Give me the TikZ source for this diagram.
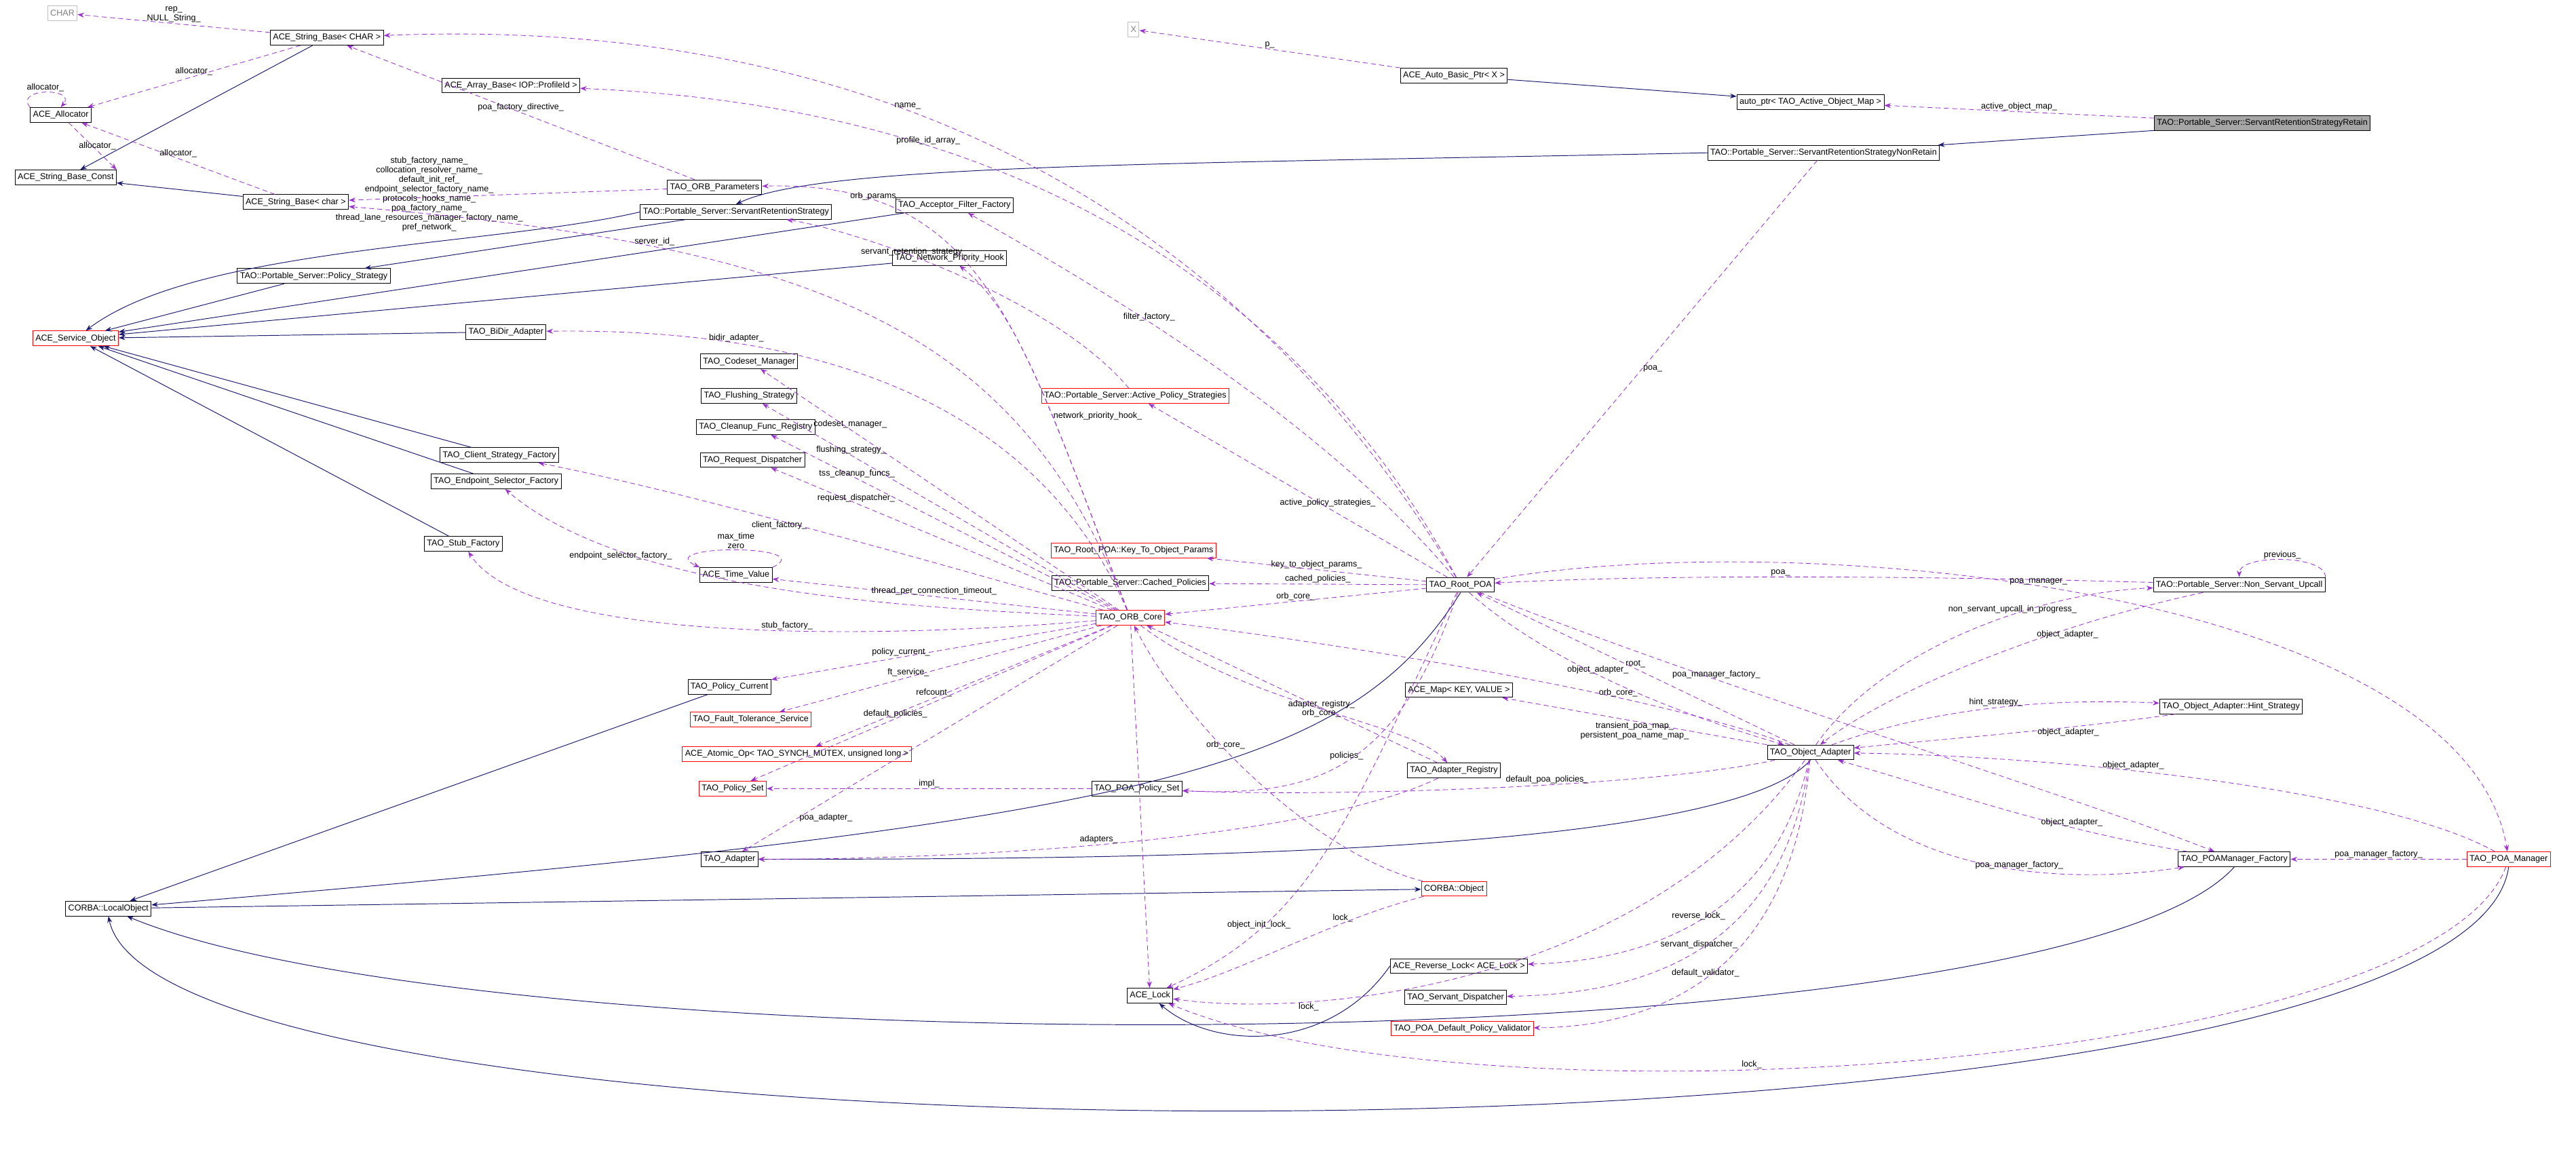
\documentclass[tikz,border=0pt]{standalone}
\usepackage{fontspec}
\setmainfont{Liberation Sans}
\usetikzlibrary{arrows.meta}
\definecolor{usecol}{HTML}{9A32CD}
\definecolor{inhcol}{HTML}{191970}
\tikzset{
  cls/.style={draw=black, fill=white, rectangle, inner sep=1.6pt, minimum height=9pt,
    font=\fontsize{5.2}{6}\selectfont},
  redcls/.style={cls, draw=red},
  ghost/.style={cls, draw=black!25, text=black!50},
  self/.style={cls, fill=black!35},
  use/.style={draw=usecol, dashed, dash pattern=on 3pt off 2pt, -{Stealth[length=4pt,width=3pt]}, line width=0.35pt},
  inh/.style={draw=inhcol, -{Stealth[length=4pt,width=3pt]}, line width=0.4pt},
  lbl/.style={font=\fontsize{5.2}{5.8}\selectfont, align=center, inner sep=0.5pt}
}
\begin{document}
\begin{tikzpicture}[x=1pt,y=1pt]
\useasboundingbox (0,0) rectangle (1568,-701);

% classes
\node[ghost] (chr) at (38,-8) {CHAR};
\node[cls] (strbc) at (199,-23) {ACE\_String\_Base< CHAR >};
\node[cls] (alloc) at (37,-70) {ACE\_Allocator};
\node[cls] (strconst) at (40,-108) {ACE\_String\_Base\_Const};
\node[cls] (strb) at (180,-123) {ACE\_String\_Base< char >};
\node[cls] (arr) at (311,-52) {ACE\_Array\_Base< IOP::ProfileId >};
\node[cls] (orbparams) at (435,-114) {TAO\_ORB\_Parameters};
\node[ghost] (x) at (690,-18) {X};
\node[cls] (autobp) at (885,-46) {ACE\_Auto\_Basic\_Ptr< X >};
\node[cls] (autop) at (1102,-62) {auto\_ptr< TAO\_Active\_Object\_Map >};
\node[self] (retain) at (1377,-75) {TAO::Portable\_Server::ServantRetentionStrategyRetain};
\node[cls] (nonretain) at (1110,-93) {TAO::Portable\_Server::ServantRetentionStrategyNonRetain};
\node[cls] (srs) at (448,-129) {TAO::Portable\_Server::ServantRetentionStrategy};
\node[cls] (aff) at (581,-125) {TAO\_Acceptor\_Filter\_Factory};
\node[cls] (polstr) at (191,-168) {TAO::Portable\_Server::Policy\_Strategy};
\node[cls] (nph) at (578,-157) {TAO\_Network\_Priority\_Hook};
\node[redcls] (svcobj) at (46,-206) {ACE\_Service\_Object};
\node[cls] (bidir) at (308,-202) {TAO\_BiDir\_Adapter};
\node[cls] (codeset) at (456,-220) {TAO\_Codeset\_Manager};
\node[cls] (flush) at (456,-241) {TAO\_Flushing\_Strategy};
\node[cls] (cleanup) at (460,-260) {TAO\_Cleanup\_Func\_Registry};
\node[cls] (reqdisp) at (458,-280) {TAO\_Request\_Dispatcher};
\node[redcls] (aps) at (691,-241) {TAO::Portable\_Server::Active\_Policy\_Strategies};
\node[cls] (csf) at (304,-277) {TAO\_Client\_Strategy\_Factory};
\node[cls] (esf) at (302,-293) {TAO\_Endpoint\_Selector\_Factory};
\node[cls] (stubf) at (282,-331) {TAO\_Stub\_Factory};
\node[cls] (tv) at (448,-350) {ACE\_Time\_Value};
\node[redcls] (ktop) at (690,-335) {TAO\_Root\_POA::Key\_To\_Object\_Params};
\node[cls] (cached) at (688,-355) {TAO::Portable\_Server::Cached\_Policies};
\node[cls] (rootpoa) at (889,-356) {TAO\_Root\_POA};
\node[redcls] (orbcore) at (688,-376) {TAO\_ORB\_Core};
\node[cls] (nsu) at (1363,-356) {TAO::Portable\_Server::Non\_Servant\_Upcall};
\node[cls] (polcur) at (444,-418) {TAO\_Policy\_Current};
\node[redcls] (ft) at (457,-438) {TAO\_Fault\_Tolerance\_Service};
\node[cls] (acemap) at (888,-420) {ACE\_Map< KEY, VALUE >};
\node[cls] (hint) at (1358,-430) {TAO\_Object\_Adapter::Hint\_Strategy};
\node[redcls] (atomic) at (485,-459) {ACE\_Atomic\_Op< TAO\_SYNCH\_MUTEX, unsigned long >};
\node[cls] (objad) at (1102,-458) {TAO\_Object\_Adapter};
\node[cls] (adreg) at (885,-469) {TAO\_Adapter\_Registry};
\node[redcls] (polset) at (446,-480) {TAO\_Policy\_Set};
\node[cls] (poapolset) at (692,-480) {TAO\_POA\_Policy\_Set};
\node[cls] (adapter) at (444,-523) {TAO\_Adapter};
\node[cls] (pmf) at (1360,-523) {TAO\_POAManager\_Factory};
\node[redcls] (poamgr) at (1527,-523) {TAO\_POA\_Manager};
\node[cls] (localobj) at (66,-553) {CORBA::LocalObject};
\node[redcls] (corbaobj) at (885,-541) {CORBA::Object};
\node[cls] (revlock) at (888,-588) {ACE\_Reverse\_Lock< ACE\_Lock >};
\node[cls] (acelock) at (700,-606) {ACE\_Lock};
\node[cls] (servdisp) at (886,-607) {TAO\_Servant\_Dispatcher};
\node[redcls] (validator) at (890,-626) {TAO\_POA\_Default\_Policy\_Validator};

% inheritance
\draw[inh] (strbc) -- (strconst);
\draw[inh] (strb) -- (strconst);
\draw[inh] (autobp) -- (autop);
\draw[inh] (retain) -- (nonretain);
\draw[inh] (nonretain.west) .. controls (700,-100) and (500,-100) .. (srs.north);
\draw[inh] (srs) -- (polstr);
\draw[inh] (srs.west) .. controls (300,-150) and (120,-150) .. (svcobj);
\draw[inh] (aff) -- (svcobj);
\draw[inh] (nph) -- (svcobj);
\draw[inh] (polstr) -- (svcobj);
\draw[inh] (bidir) -- (svcobj);
\draw[inh] (csf) -- (svcobj);
\draw[inh] (esf) -- (svcobj);
\draw[inh] (stubf) -- (svcobj);
\draw[inh] (polcur) -- (localobj);
\draw[inh] (rootpoa.south) .. controls (820,-470) and (700,-500) .. (localobj);
\draw[inh] (localobj) -- (corbaobj);
\draw[inh] (objad.south) .. controls (1050,-520) and (700,-523) .. (adapter);
\draw[inh] (pmf.south) .. controls (1250,-650) and (300,-650) .. (localobj);
\draw[inh] (poamgr.south) .. controls (1500,-720) and (100,-720) .. (localobj.south);
\draw[inh] (revlock.west) .. controls (810,-640) and (740,-640) .. (acelock);

% usage
\draw[use] (strbc) -- node[lbl, above]{rep\_\\NULL\_String\_} (chr);
\draw[use] (strbc) -- node[lbl, above]{allocator\_} (alloc);
\draw[use] (alloc.north west) .. controls +(-10,12) and +(10,12) .. node[lbl, above]{allocator\_} (alloc.north);
\draw[use] (strb) -- node[lbl, above]{allocator\_} (alloc);
\draw[use] (alloc) -- node[lbl, above, pos=0.6]{allocator\_} (strconst.north east);
\draw[use] (orbparams) -- node[lbl, above]{poa\_factory\_directive\_} (strbc);
\draw[use] (rootpoa) .. controls (700,-40) and (400,-15) .. node[lbl, above, pos=0.5]{name\_} (strbc);
\draw[use] (rootpoa) .. controls (750,-100) and (500,-60) .. node[lbl, above, pos=0.6]{profile\_id\_array\_} (arr);
\draw[use] (orbparams) -- node[lbl, left, pos=0.45]{stub\_factory\_name\_\\collocation\_resolver\_name\_\\default\_init\_ref\_\\endpoint\_selector\_factory\_name\_\\protocols\_hooks\_name\_\\poa\_factory\_name\_\\thread\_lane\_resources\_manager\_factory\_name\_\\pref\_network\_} (strb);
\draw[use] (orbcore) .. controls (620,-200) and (600,-110) .. node[lbl, above, pos=0.8]{orb\_params\_} (orbparams);
\draw[use] (autobp) -- node[lbl, above]{p\_} (x);
\draw[use] (retain) -- node[lbl, above]{active\_object\_map\_} (autop);
\draw[use] (nonretain) -- node[lbl, right, pos=0.5]{poa\_} (rootpoa);
\draw[use] (aps) .. controls (640,-180) and (520,-140) .. node[lbl, above, pos=0.6]{servant\_retention\_strategy\_} (srs);
\draw[use] (rootpoa) .. controls (800,-250) and (660,-170) .. node[lbl, above, pos=0.6]{filter\_factory\_} (aff);
\draw[use] (orbcore) .. controls (640,-250) and (620,-190) .. node[lbl, right, pos=0.4]{network\_priority\_hook\_} (nph);
\draw[use] (orbcore) .. controls (620,-200) and (500,-150) .. node[lbl, above, pos=0.75]{server\_id\_} (strb);
\draw[use] (orbcore) .. controls (620,-220) and (450,-200) .. node[lbl, above, pos=0.7]{bidir\_adapter\_} (bidir);
\draw[use] (orbcore) -- node[lbl, above, pos=0.75]{codeset\_manager\_} (codeset);
\draw[use] (orbcore) -- node[lbl, above, pos=0.75]{flushing\_strategy\_} (flush);
\draw[use] (orbcore) -- node[lbl, above, pos=0.75]{tss\_cleanup\_funcs\_} (cleanup);
\draw[use] (orbcore) -- node[lbl, above, pos=0.75]{request\_dispatcher\_} (reqdisp);
\draw[use] (rootpoa) -- node[lbl, above, pos=0.4]{active\_policy\_strategies\_} (aps);
\draw[use] (orbcore) .. controls (560,-340) and (420,-300) .. node[lbl, below, pos=0.55]{client\_factory\_} (csf);
\draw[use] (orbcore) .. controls (550,-370) and (380,-360) .. node[lbl, below, pos=0.75]{endpoint\_selector\_factory\_} (esf);
\draw[use] (orbcore) .. controls (520,-390) and (320,-390) .. node[lbl, above, pos=0.4]{stub\_factory\_} (stubf);
\draw[use] (tv.north east) .. controls +(30,14) and +(-30,14) .. node[lbl, above]{max\_time\\zero} (tv.north west);
\draw[use] (orbcore) -- node[lbl, above, pos=0.5]{thread\_per\_connection\_timeout\_} (tv);
\draw[use] (rootpoa) -- node[lbl, above]{key\_to\_object\_params\_} (ktop);
\draw[use] (rootpoa) -- node[lbl, above]{cached\_policies\_} (cached);
\draw[use] (rootpoa) -- node[lbl, above]{orb\_core\_} (orbcore);
\draw[use] (orbcore) -- node[lbl, above, pos=0.6]{policy\_current\_} (polcur);
\draw[use] (orbcore) -- node[lbl, above, pos=0.6]{ft\_service\_} (ft);
\draw[use] (orbcore) -- node[lbl, above, pos=0.6]{refcount\_} (atomic);
\draw[use] (orbcore) -- node[lbl, above, pos=0.6]{default\_policies\_} (polset);
\draw[use] (poapolset) -- node[lbl, above]{impl\_} (polset);
\draw[use] (orbcore) -- node[lbl, right, pos=0.85]{poa\_adapter\_} (adapter);
\draw[use] (adreg) .. controls (800,-510) and (600,-523) .. node[lbl, above, pos=0.55]{adapters\_} (adapter);
\draw[use] (orbcore) .. controls (760,-430) and (860,-440) .. node[lbl, above, pos=0.5]{adapter\_registry\_} (adreg);
\draw[use] (adreg) -- node[lbl, below, pos=0.4]{orb\_core\_} (orbcore);
\draw[use] (objad) .. controls (1000,-420) and (800,-390) .. node[lbl, above, pos=0.3]{orb\_core\_} (orbcore);
\draw[use] (objad) -- node[lbl, below, pos=0.5]{transient\_poa\_map\_\\persistent\_poa\_name\_map\_} (acemap);
\draw[use] (rootpoa) .. controls (850,-470) and (800,-485) .. node[lbl, above, pos=0.5]{policies\_} (poapolset);
\draw[use] (objad) .. controls (1000,-480) and (800,-485) .. node[lbl, above, pos=0.4]{default\_poa\_policies\_} (poapolset);
\draw[use] (corbaobj) .. controls (800,-520) and (720,-440) .. node[lbl, above, pos=0.6]{orb\_core\_} (orbcore);
\draw[use] (corbaobj) .. controls (810,-560) and (760,-590) .. node[lbl, above, pos=0.3]{lock\_} (acelock);
\draw[use] (rootpoa) .. controls (820,-500) and (800,-560) .. node[lbl, above, pos=0.75]{object\_init\_lock\_} (acelock);
\draw[use] (objad) .. controls (1000,-600) and (800,-620) .. node[lbl, below, pos=0.75]{lock\_} (acelock);
\draw[use] (poamgr) .. controls (1480,-650) and (900,-690) .. node[lbl, above, pos=0.6]{lock\_} (acelock);
\draw[use] (orbcore) -- (acelock);
\draw[use] (objad) -- node[lbl, above, pos=0.5]{root\_} (rootpoa);
\draw[use] (rootpoa) .. controls (950,-410) and (1040,-440) .. node[lbl, above, pos=0.4]{object\_adapter\_} (objad);
\draw[use] (nsu) .. controls (1150,-350) and (1000,-350) .. node[lbl, above, pos=0.5]{poa\_} (rootpoa);
\draw[use] (nsu) .. controls (1250,-380) and (1150,-420) .. node[lbl, below, pos=0.3]{object\_adapter\_} (objad);
\draw[use] (objad) .. controls (1150,-390) and (1250,-360) .. node[lbl, above, pos=0.6]{non\_servant\_upcall\_in\_progress\_} (nsu);
\draw[use] (nsu.north east) .. controls +(0,14) and +(0,14) .. node[lbl, above]{previous\_} (nsu.north);
\draw[use] (hint) .. controls (1250,-445) and (1180,-450) .. node[lbl, below, pos=0.3]{object\_adapter\_} (objad);
\draw[use] (objad) .. controls (1180,-430) and (1250,-425) .. node[lbl, above, pos=0.5]{hint\_strategy\_} (hint);
\draw[use] (poamgr) .. controls (1450,-480) and (1250,-460) .. node[lbl, above, pos=0.6]{object\_adapter\_} (objad);
\draw[use] (pmf) .. controls (1250,-505) and (1180,-480) .. node[lbl, above, pos=0.3]{object\_adapter\_} (objad);
\draw[use] (objad) .. controls (1150,-530) and (1250,-540) .. node[lbl, above, pos=0.6]{poa\_manager\_factory\_} (pmf);
\draw[use] (poamgr) -- node[lbl, above]{poa\_manager\_factory\_} (pmf);
\draw[use] (rootpoa) .. controls (1050,-420) and (1250,-480) .. node[lbl, above, pos=0.3]{poa\_manager\_factory\_} (pmf);
\draw[use] (rootpoa) .. controls (1100,-320) and (1500,-360) .. node[lbl, above, pos=0.45]{poa\_manager\_} (poamgr);
\draw[use] (objad) .. controls (1080,-560) and (1000,-585) .. node[lbl, above, pos=0.5]{reverse\_lock\_} (revlock);
\draw[use] (objad) .. controls (1085,-580) and (1000,-605) .. node[lbl, above, pos=0.5]{servant\_dispatcher\_} (servdisp);
\draw[use] (objad) .. controls (1090,-600) and (1000,-625) .. node[lbl, above, pos=0.5]{default\_validator\_} (validator);
\end{tikzpicture}
\end{document}
